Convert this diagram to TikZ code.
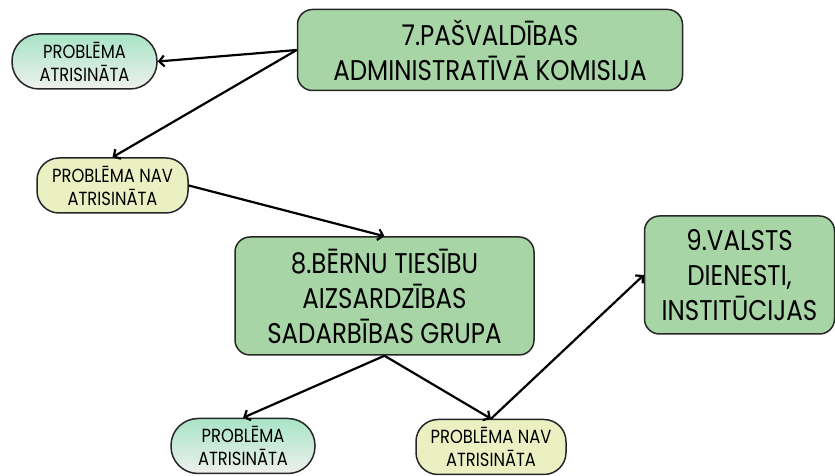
\documentclass[tikz,border=0pt]{standalone}
\usepackage{fontspec}
\setmainfont[FakeStretch=0.86]{Poppins}
\usetikzlibrary{arrows.meta}
\definecolor{boxgreen}{HTML}{A8D5A6}
\definecolor{navyellow}{HTML}{EBF0C2}
\definecolor{restop}{HTML}{A8E4C6}
\definecolor{resbot}{HTML}{EEF0EE}
\tikzset{
  bigbox/.style={draw=black!85,line width=1.5pt,rounded corners=15pt,fill=boxgreen,align=center,font=\fontsize{28.5}{35}\selectfont},
  resbox/.style={draw=black!85,line width=1.5pt,rounded corners=27pt,top color=restop,bottom color=resbot,align=center,minimum height=55pt,font=\fontsize{19}{23}\selectfont},
  navbox/.style={draw=black!85,line width=1.5pt,rounded corners=22pt,fill=navyellow,align=center,minimum height=55pt,font=\fontsize{19}{23}\selectfont},
  link/.style={line width=2.2pt,-{Straight Barb[length=5pt,width=11pt]}}
}
\begin{document}
\begin{tikzpicture}[x=1pt,y=1pt]
\useasboundingbox (0,0) rectangle (835,476);
% boxes
\node[bigbox,minimum width=385pt,minimum height=81pt] (kom) at (490,426) {7.PAŠVALDĪBAS\\ADMINISTRATĪVĀ KOMISIJA};
\node[resbox,minimum width=145pt] (res1) at (84.5,414.5) {PROBLĒMA\\ATRISINĀTA};
\node[navbox,minimum width=151pt] (nav1) at (112.5,290.5) {PROBLĒMA NAV\\ATRISINĀTA};
\node[bigbox,minimum width=299pt,minimum height=118pt] (grupa) at (384.5,180) {8.BĒRNU TIESĪBU\\AIZSARDZĪBAS\\SADARBĪBAS GRUPA};
\node[bigbox,minimum width=190pt,minimum height=118pt] (valsts) at (739.5,201) {9.VALSTS\\DIENESTI,\\INSTITŪCIJAS};
\node[resbox,minimum width=144pt] (res2) at (243,30) {PROBLĒMA\\ATRISINĀTA};
\node[navbox,minimum width=150pt] (nav2) at (491,29) {PROBLĒMA NAV\\ATRISINĀTA};
% connectors
\draw[link] (kom.west) -- (res1.east);
\draw[link] (kom.west) -- (nav1.north);
\draw[link] (nav1.east) -- (grupa.north);
\draw[link] (grupa.south) -- (res2.north);
\draw[link] (grupa.south) -- (nav2.north);
\draw[link] (nav2.north) -- (valsts.west);
\end{tikzpicture}
\end{document}
